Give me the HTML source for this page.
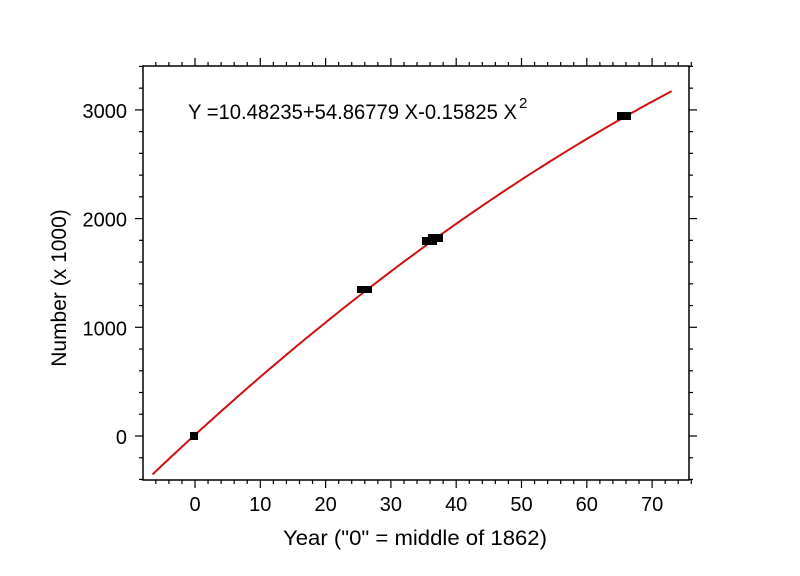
<!DOCTYPE html>
<html><head><meta charset="utf-8"><style>
html,body{margin:0;padding:0;background:#fff;width:800px;height:576px;overflow:hidden}
svg text{font-family:"Liberation Sans",Arial,sans-serif;fill:#000}
</style></head><body>
<svg id="s" width="800" height="576" xmlns="http://www.w3.org/2000/svg">
<rect x="143" y="66" width="546" height="414" fill="none" stroke="#000" stroke-width="1.5"/>
<g id="ticks" stroke="#000" stroke-width="1.2"></g>
<g id="labels" font-size="20"></g>
<polyline id="curve" fill="none" stroke="#d01010" stroke-width="2"/>
<g fill="#000">
<rect x="190" y="432" width="8" height="8"/>
<rect x="357" y="286" width="15" height="7"/>
<rect x="422" y="237" width="15" height="8"/>
<rect x="428" y="234" width="15" height="8"/>
<rect x="617" y="112" width="14" height="8"/>
</g>
<text x="188" y="119" font-size="21" textLength="329" lengthAdjust="spacingAndGlyphs">Y =10.48235+54.86779 X-0.15825 X</text>
<text x="519" y="108" font-size="15">2</text>
<text x="415" y="545" font-size="21" text-anchor="middle" textLength="264" lengthAdjust="spacingAndGlyphs">Year ("0" = middle of 1862)</text>
<text transform="translate(66,288) rotate(-90)" font-size="21" text-anchor="middle">Number (x 1000)</text>
</svg>
<script>
var X=function(v){return 195+6.53*v},Y=function(v){return 436-0.1087*v};
var t=document.getElementById('ticks'),l=document.getElementById('labels'),h='',lh='';
function ln(a,b,c,d){h+='<line x1="'+a+'" y1="'+b+'" x2="'+c+'" y2="'+d+'"/>';}
for(var v=-6;v<=76;v+=2){var x=X(v),maj=v%10==0,L=maj?8:4;ln(x,480,x,480+L);ln(x,66,x,66-L);
 if(maj&&v>=0&&v<=70)lh+='<text x="'+x+'" y="511" text-anchor="middle">'+v+'</text>';}
for(var v=-400;v<=3400;v+=200){var y=Y(v),maj=v%1000==0,L=maj?8:4;ln(143,y,143-L,y);ln(689,y,689+L,y);
 if(maj)lh+='<text x="127" y="'+(y+8)+'" text-anchor="end">'+v+'</text>';}
t.innerHTML=h;l.innerHTML=lh;
var p=[];for(var v=-6.5;v<=73.01;v+=0.5){var yy=10.48235+54.86779*v-0.15825*v*v;p.push(X(v).toFixed(1)+','+Y(yy).toFixed(1));}
document.getElementById('curve').setAttribute('points',p.join(' '));
</script>
</body></html>
